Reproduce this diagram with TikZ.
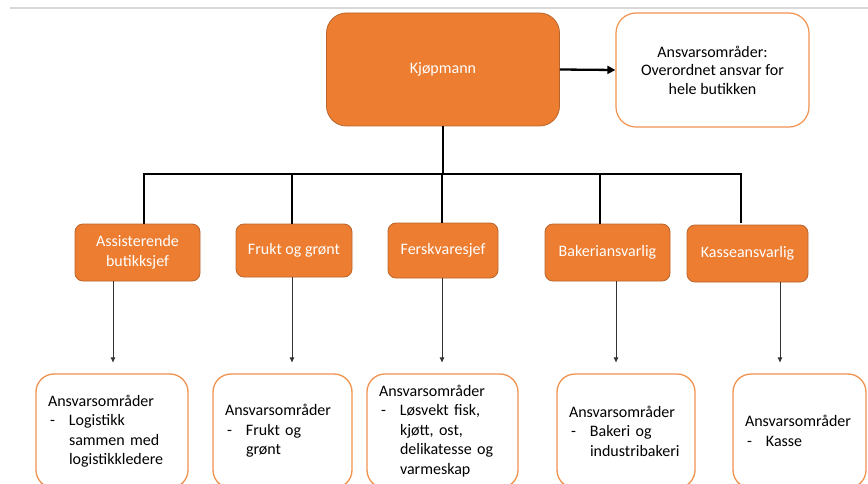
\documentclass[tikz,border=0pt]{standalone}
\usepackage{fontspec}
\setmainfont{Carlito}
\usetikzlibrary{arrows.meta}

\definecolor{boxorange}{HTML}{ED7D31}
\definecolor{boxedge}{HTML}{B9652A}
\definecolor{paleedge}{HTML}{F1934F}
\definecolor{ruleGray}{HTML}{D9D9D9}
\definecolor{thinline}{HTML}{333333}

% dash item and its continuation lines
\newcommand{\dashitem}[1]{\makebox[21pt][l]{\hspace{2pt}-}#1}
\newcommand{\contitem}[1]{\hspace*{21pt}#1}

\tikzset{
  txt/.style={font=\fontsize{16}{19.5}\selectfont},
  rolebox/.style={txt, draw=boxedge, line width=0.8pt, fill=boxorange, text=white,
    rounded corners=8pt, align=center, inner sep=2pt},
  bossbox/.style={rolebox, rounded corners=20pt},
  scopebox/.style={txt, draw=paleedge, line width=1.2pt, fill=white, rounded corners=20pt,
    align=center, inner sep=2pt, font=\fontsize{16}{18.5}\selectfont},
  areabox/.style={txt, draw=paleedge, line width=1.3pt, fill=white, rounded corners=18pt,
    align=left, inner xsep=12pt, inner ysep=2pt, minimum height=114pt},
  tree/.style={line width=2.5pt, black},
  mainarrow/.style={line width=2.3pt, black, -{Triangle[length=8pt,width=8pt]}},
  subarrow/.style={line width=0.9pt, thinline, -{Triangle[length=5pt,width=4.5pt]}, shorten >=11pt}
}

\begin{document}
\begin{tikzpicture}[x=1pt, y=-1pt]
  \useasboundingbox (0,0) rectangle (868,484);
  \fill[white] (0,0) rectangle (868,484);

  % thin rule along the top edge
  \draw[ruleGray, line width=1.5pt] (10,8) -- (868,8);

  % top level
  \node[bossbox, minimum width=233pt, minimum height=113pt] (kjop) at (443,69.5) {Kjøpmann};
  \node[scopebox, minimum width=193pt, minimum height=114pt] (scope) at (712.5,70)
    {Ansvarsområder:\\Overordnet ansvar for\\hele butikken};

  % second level
  \node[rolebox, minimum width=125pt, minimum height=57pt] (ass)   at (137.5,252.5) {Assisterende\\[0.5pt]butikksjef};
  \node[rolebox, minimum width=116pt, minimum height=53pt] (frukt) at (294,250.5)   {Frukt og grønt};
  \node[rolebox, minimum width=110pt, minimum height=55pt] (fersk) at (443,250.5)   {Ferskvaresjef};
  \node[rolebox, minimum width=125pt, minimum height=57pt] (baker) at (607.5,252.5) {Bakeriansvarlig};
  \node[rolebox, minimum width=121pt, minimum height=57pt] (kasse) at (747.5,253.5) {Kasseansvarlig};

  % areas of responsibility
  \node[areabox, text width=128pt] (r1) at (112,431)
    {Ansvarsområder\\\dashitem{Logistikk}\\\contitem{sammen med}\\\contitem{logistikkledere}};
  \node[areabox, text width=115pt] (r2) at (282.5,431)
    {Ansvarsområder\\\dashitem{Frukt og}\\\contitem{grønt}};
  \node[areabox, text width=127pt] (r3) at (442.5,431)
    {Ansvarsområder\\\dashitem{Løsvekt fisk,}\\\contitem{kjøtt, ost,}\\\contitem{delikatesse og}\\\contitem{varmeskap}};
  \node[areabox, text width=114pt] (r4) at (626,431)
    {Ansvarsområder\\\dashitem{Bakeri og}\\\contitem{industribakeri}};
  \node[areabox, text width=109pt] (r5) at (799.5,431)
    {Ansvarsområder\\\dashitem{Kasse}};

  % connectors
  \draw[mainarrow] (kjop.east) -- (scope.west);

  \coordinate (bus) at (0,174);
  \draw[tree] (kjop.south) -- (kjop.south |- bus);
  \draw[tree, line cap=rect] ([xshift=6.5pt]ass.north |- bus) -- ([xshift=-6.5pt]kasse.north |- bus);
  \draw[tree] ([xshift=6.5pt]ass.north |- bus) -- ([xshift=6.5pt]ass.north);
  \draw[tree] ([xshift=-2pt]frukt.north |- bus) -- ([xshift=-2pt]frukt.north);
  \draw[tree] ([xshift=-1pt]fersk.north |- bus) -- ([xshift=-1pt]fersk.north);
  \draw[tree] ([xshift=-7.5pt]baker.north |- bus) -- ([xshift=-7.5pt]baker.north);
  \draw[tree] ([xshift=-6.5pt]kasse.north |- bus) -- ([xshift=-6.5pt,yshift=2pt]kasse.north);

  \draw[subarrow] ([xshift=-24.5pt]ass.south)  -- ([xshift=-24.5pt]ass.south |- r1.north);
  \draw[subarrow] ([xshift=-2pt]frukt.south)   -- ([xshift=-2pt]frukt.south |- r2.north);
  \draw[subarrow] ([xshift=-1pt]fersk.south)   -- ([xshift=-1pt]fersk.south |- r3.north);
  \draw[subarrow] ([xshift=8.5pt]baker.south)  -- ([xshift=8.5pt]baker.south |- r4.north);
  \draw[subarrow] ([xshift=32.5pt]kasse.south) -- ([xshift=32.5pt]kasse.south |- r5.north);
\end{tikzpicture}
\end{document}
